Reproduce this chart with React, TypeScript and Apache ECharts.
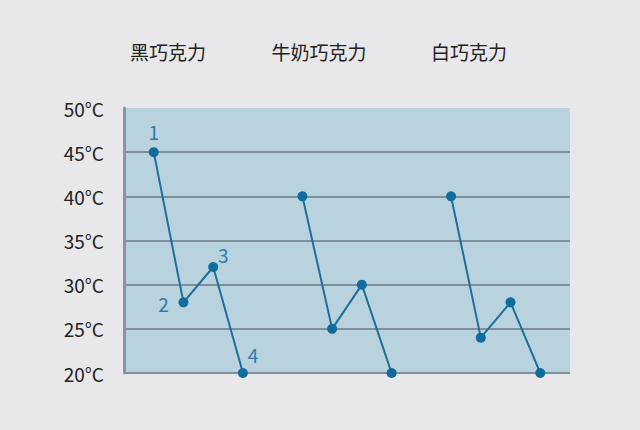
import React, { useEffect, useRef } from "react";
import * as echarts from "echarts";

const groups = ["黑巧克力", "牛奶巧克力", "白巧克力"];
const steps = ["1", "2", "3", "4"];
const darkValues = [45, 28, 32, 20];
const milkValues = [40, 25, 30, 20];
const whiteValues = [40, 24, 28, 20];
const yTicks = [20, 25, 30, 35, 40, 45, 50];

const seriesValues = [darkValues, milkValues, whiteValues];

// category slots: gap, 4 steps, gap, 4 steps, gap, 4 steps, gap
const categories: string[] = [];
groups.forEach((g, gi) => {
  categories.push("gap" + gi);
  steps.forEach((s) => categories.push(g + s));
});
categories.push("gapEnd");

const titleX = [168, 319, 469];
const labelOffsets: [number, number][] = [
  [0, -21],
  [-20, 1],
  [10, -13],
  [10, -19],
];

const FONT = '"Noto Sans CJK SC", "Noto Sans", sans-serif';

export default function App() {
  const ref = useRef<HTMLDivElement>(null);
  useEffect(() => {
    if (!ref.current) return;
    const chart = echarts.init(ref.current, undefined, { renderer: "svg" });
    const gridLineColors = yTicks.map((v, i) =>
      i === yTicks.length - 1 ? "rgba(0,0,0,0)" : "#7f909a"
    );
    chart.setOption({
      animation: false,
      backgroundColor: "#e8e7e9",
      textStyle: { fontFamily: FONT },
      grid: {
        left: 124,
        right: 70,
        top: 108,
        bottom: 57,
        show: true,
        backgroundColor: "#b9d3de",
        borderWidth: 0,
      },
      graphic: groups.map((g, i) => ({
        type: "text",
        x: titleX[i],
        y: 51,
        style: {
          text: g,
          fill: "#222222",
          font: `19px ${FONT}`,
          textAlign: "center",
          textVerticalAlign: "middle",
        },
      })),
      xAxis: {
        type: "category",
        data: categories,
        boundaryGap: false,
        axisLine: { show: false },
        axisTick: { show: false },
        axisLabel: { show: false },
        splitLine: { show: false },
      },
      yAxis: {
        type: "value",
        min: 20,
        max: 50,
        interval: 5,
        axisLine: { show: true, lineStyle: { color: "#8797a1", width: 3 } },
        axisTick: { show: false },
        axisLabel: {
          formatter: (v: number) => v + "°C",
          color: "#222222",
          fontSize: 19,
          fontFamily: FONT,
          margin: 20,
        },
        splitLine: {
          show: true,
          lineStyle: { color: gridLineColors, width: 2 },
        },
      },
      series: groups.map((g, gi) => ({
        type: "line",
        name: g,
        data: seriesValues[gi].map((v, si) => ({
          value: [g + steps[si], v],
          label:
            gi === 0
              ? {
                  show: true,
                  position: "inside",
                  offset: labelOffsets[si],
                  formatter: steps[si],
                  color: "#2a7aaa",
                  fontSize: 19,
                  fontFamily: FONT,
                }
              : { show: false },
        })),
        symbol: "circle",
        symbolSize: 10,
        itemStyle: { color: "#0f6c9c" },
        lineStyle: { color: "#1d6f9a", width: 2 },
        emphasis: { disabled: true },
      })),
    });
    return () => chart.dispose();
  }, []);
  return (
    <div
      ref={ref}
      style={{
        position: "fixed",
        left: 0,
        top: 0,
        width: 640,
        height: 430,
      }}
    />
  );
}
